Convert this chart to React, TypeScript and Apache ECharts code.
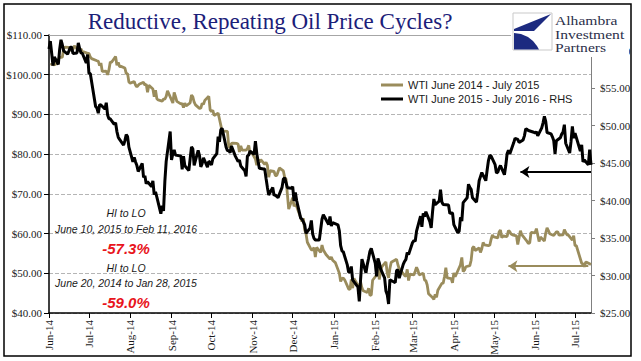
import React, { useEffect, useRef } from "react";
import * as echarts from "echarts";

// ---------- axis ----------
const axisStart = "2014-06-01";
const axisEnd = "2015-07-13";
const monthNames = ["Jan", "Feb", "Mar", "Apr", "May", "Jun", "Jul", "Aug", "Sep", "Oct", "Nov", "Dec"];
const leftMin = 40, leftMax = 110, leftStep = 10;
const rightMin = 25, rightMax = 62.07, rightStep = 5;

// ---------- series: WTI June 2014 - July 2015 (left axis) ----------
const tanPoints: [string, number][] = [
  ["2014-06-02",102.47],["2014-06-03",102.66],["2014-06-04",102.64],["2014-06-05",102.48],["2014-06-06",102.66],["2014-06-09",104.41],["2014-06-10",104.35],["2014-06-11",104.40],["2014-06-12",106.53],["2014-06-13",106.91],["2014-06-16",106.90],["2014-06-17",106.36],["2014-06-18",106.07],["2014-06-19",106.43],["2014-06-20",107.26],["2014-06-23",106.17],["2014-06-24",106.03],["2014-06-25",106.50],["2014-06-26",105.84],["2014-06-27",105.74],["2014-06-30",105.37],
  ["2014-07-01",105.34],["2014-07-02",104.48],["2014-07-03",104.06],["2014-07-07",103.53],["2014-07-08",103.40],["2014-07-09",102.29],["2014-07-10",102.93],["2014-07-11",100.83],["2014-07-14",100.91],["2014-07-15",99.96],["2014-07-16",101.20],["2014-07-17",103.19],["2014-07-18",103.13],["2014-07-21",104.59],["2014-07-22",102.39],["2014-07-23",103.12],["2014-07-24",102.07],["2014-07-25",102.09],["2014-07-28",101.67],["2014-07-29",100.27],["2014-07-30",100.27],["2014-07-31",98.17],
  ["2014-08-01",97.88],["2014-08-04",98.29],["2014-08-05",97.38],["2014-08-06",96.92],["2014-08-07",97.34],["2014-08-08",97.65],["2014-08-11",98.08],["2014-08-12",97.37],["2014-08-13",97.59],["2014-08-14",95.58],["2014-08-15",97.35],["2014-08-18",96.41],["2014-08-19",94.48],["2014-08-20",96.07],["2014-08-21",93.96],["2014-08-22",93.65],["2014-08-25",93.35],["2014-08-26",93.86],["2014-08-27",93.88],["2014-08-28",94.55],["2014-08-29",95.96],
  ["2014-09-02",92.88],["2014-09-03",95.54],["2014-09-04",94.45],["2014-09-05",93.29],["2014-09-08",92.66],["2014-09-09",92.75],["2014-09-10",91.71],["2014-09-11",92.83],["2014-09-12",92.18],["2014-09-15",92.92],["2014-09-16",94.88],["2014-09-17",94.42],["2014-09-18",93.07],["2014-09-19",92.41],["2014-09-22",91.52],["2014-09-23",91.56],["2014-09-24",92.80],["2014-09-25",92.53],["2014-09-26",93.54],["2014-09-29",94.57],["2014-09-30",91.16],
  ["2014-10-01",90.73],["2014-10-02",91.01],["2014-10-03",89.74],["2014-10-06",90.34],["2014-10-07",88.85],["2014-10-08",87.31],["2014-10-09",85.77],["2014-10-10",85.82],["2014-10-13",85.74],["2014-10-14",81.84],["2014-10-15",81.78],["2014-10-16",82.70],["2014-10-17",82.75],["2014-10-20",82.71],["2014-10-21",82.49],["2014-10-22",80.52],["2014-10-23",82.09],["2014-10-24",81.01],["2014-10-27",81.00],["2014-10-28",81.42],["2014-10-29",82.20],["2014-10-30",80.12],["2014-10-31",80.54],
  ["2014-11-03",78.78],["2014-11-04",77.19],["2014-11-05",78.68],["2014-11-06",77.91],["2014-11-07",78.65],["2014-11-10",77.40],["2014-11-11",77.94],["2014-11-12",77.18],["2014-11-13",74.21],["2014-11-14",75.82],["2014-11-17",75.64],["2014-11-18",74.61],["2014-11-19",74.58],["2014-11-20",75.58],["2014-11-21",76.51],["2014-11-24",75.78],["2014-11-25",74.09],["2014-11-26",73.69],["2014-11-28",66.15],
  ["2014-12-01",69.00],["2014-12-02",66.88],["2014-12-03",67.38],["2014-12-04",66.81],["2014-12-05",65.84],["2014-12-08",63.05],["2014-12-09",63.82],["2014-12-10",60.94],["2014-12-11",59.95],["2014-12-12",57.81],["2014-12-15",55.91],["2014-12-16",55.93],["2014-12-17",56.47],["2014-12-18",54.11],["2014-12-19",56.52],["2014-12-22",55.26],["2014-12-23",57.12],["2014-12-24",55.84],["2014-12-26",54.73],["2014-12-29",53.61],["2014-12-30",54.12],["2014-12-31",53.27],
  ["2015-01-02",52.69],["2015-01-05",50.04],["2015-01-06",47.93],["2015-01-07",48.65],["2015-01-08",48.79],["2015-01-09",48.36],["2015-01-12",46.07],["2015-01-13",45.89],["2015-01-14",48.48],["2015-01-15",46.25],["2015-01-16",48.69],["2015-01-20",46.39],["2015-01-21",47.78],["2015-01-22",46.31],["2015-01-23",45.59],["2015-01-26",45.15],["2015-01-27",46.23],["2015-01-28",44.45],["2015-01-29",44.53],["2015-01-30",48.24],
  ["2015-02-02",49.57],["2015-02-03",53.05],["2015-02-04",48.45],["2015-02-05",50.48],["2015-02-06",51.69],["2015-02-09",52.86],["2015-02-10",50.02],["2015-02-11",48.84],["2015-02-12",51.21],["2015-02-13",52.78],["2015-02-17",53.53],["2015-02-18",52.14],["2015-02-19",51.16],["2015-02-20",50.81],["2015-02-23",49.45],["2015-02-24",49.25],["2015-02-25",50.99],["2015-02-26",48.17],["2015-02-27",49.76],
  ["2015-03-02",49.59],["2015-03-03",50.52],["2015-03-04",51.53],["2015-03-05",50.76],["2015-03-06",49.61],["2015-03-09",50.00],["2015-03-10",48.29],["2015-03-11",48.17],["2015-03-12",47.05],["2015-03-13",44.84],["2015-03-16",43.88],["2015-03-17",43.46],["2015-03-18",44.66],["2015-03-19",43.96],["2015-03-20",45.72],["2015-03-23",47.45],["2015-03-24",47.51],["2015-03-25",49.21],["2015-03-26",51.43],["2015-03-27",48.87],["2015-03-30",48.68],["2015-03-31",47.60],
  ["2015-04-01",50.09],["2015-04-02",49.14],["2015-04-06",52.14],["2015-04-07",53.98],["2015-04-08",50.42],["2015-04-09",50.79],["2015-04-10",51.64],["2015-04-13",51.91],["2015-04-14",53.29],["2015-04-15",56.39],["2015-04-16",56.71],["2015-04-17",55.74],["2015-04-20",56.38],["2015-04-21",55.26],["2015-04-22",56.16],["2015-04-23",57.74],["2015-04-24",57.15],["2015-04-27",56.99],["2015-04-28",57.06],["2015-04-29",58.58],["2015-04-30",59.63],
  ["2015-05-01",59.15],["2015-05-04",58.93],["2015-05-05",60.40],["2015-05-06",60.93],["2015-05-07",58.94],["2015-05-08",59.39],["2015-05-11",59.25],["2015-05-12",60.75],["2015-05-13",60.50],["2015-05-14",59.88],["2015-05-15",59.69],["2015-05-18",59.43],["2015-05-19",57.26],["2015-05-20",58.98],["2015-05-21",60.72],["2015-05-22",59.72],["2015-05-26",58.03],["2015-05-27",57.51],["2015-05-28",57.68],["2015-05-29",60.30],
  ["2015-06-01",60.20],["2015-06-02",61.26],["2015-06-03",59.64],["2015-06-04",58.00],["2015-06-05",59.13],["2015-06-08",58.14],["2015-06-09",60.14],["2015-06-10",61.43],["2015-06-11",60.77],["2015-06-12",59.96],["2015-06-15",59.52],["2015-06-16",59.97],["2015-06-17",60.45],["2015-06-18",60.45],["2015-06-19",59.61],["2015-06-22",59.68],["2015-06-23",61.01],["2015-06-24",60.27],["2015-06-25",59.70],["2015-06-26",59.63],["2015-06-29",58.33],["2015-06-30",59.47],
  ["2015-07-01",56.96],["2015-07-02",56.93],["2015-07-06",52.53],["2015-07-07",52.33],["2015-07-08",51.65],["2015-07-09",52.78],["2015-07-10",52.74],["2015-07-13",52.20],
];

// ---------- series: WTI June 2015 - July 2016 (right axis), real dates ----------
const blackPoints: [string, number][] = [
  ["2015-06-01",60.20],["2015-06-02",61.26],["2015-06-03",59.64],["2015-06-04",58.00],["2015-06-05",59.13],["2015-06-08",58.14],["2015-06-09",60.14],["2015-06-10",61.43],["2015-06-11",60.77],["2015-06-12",59.96],["2015-06-15",59.52],["2015-06-16",59.97],["2015-06-17",60.45],["2015-06-18",60.45],["2015-06-19",59.61],["2015-06-22",59.68],["2015-06-23",61.01],["2015-06-24",60.27],["2015-06-25",59.70],["2015-06-26",59.63],["2015-06-29",58.33],["2015-06-30",59.47],
  ["2015-07-01",56.96],["2015-07-02",56.93],["2015-07-06",52.53],["2015-07-07",52.33],["2015-07-08",51.65],["2015-07-09",52.78],["2015-07-10",52.74],["2015-07-13",52.20],["2015-07-14",53.04],["2015-07-15",51.41],["2015-07-16",50.91],["2015-07-17",50.89],["2015-07-20",50.15],["2015-07-21",50.36],["2015-07-22",49.19],["2015-07-23",48.45],["2015-07-24",48.14],["2015-07-27",47.39],["2015-07-28",47.98],["2015-07-29",48.79],["2015-07-30",48.52],["2015-07-31",47.12],
  ["2015-08-03",45.17],["2015-08-04",45.74],["2015-08-05",45.15],["2015-08-06",44.66],["2015-08-07",43.87],["2015-08-10",44.96],["2015-08-11",43.08],["2015-08-12",43.30],["2015-08-13",42.23],["2015-08-14",42.50],["2015-08-17",41.87],["2015-08-18",42.62],["2015-08-19",40.80],["2015-08-20",41.14],["2015-08-21",40.45],["2015-08-24",38.24],["2015-08-25",39.31],["2015-08-26",38.60],["2015-08-27",42.56],["2015-08-28",45.22],["2015-08-31",49.20],
  ["2015-09-01",45.41],["2015-09-02",46.25],["2015-09-03",46.75],["2015-09-04",46.05],["2015-09-08",45.94],["2015-09-09",44.15],["2015-09-10",45.92],["2015-09-11",44.63],["2015-09-14",44.00],["2015-09-15",45.59],["2015-09-16",47.15],["2015-09-17",46.90],["2015-09-18",44.68],["2015-09-21",46.68],["2015-09-22",46.00],["2015-09-23",44.48],["2015-09-24",44.91],["2015-09-25",45.70],["2015-09-28",44.43],["2015-09-29",45.23],["2015-09-30",45.09],
  ["2015-10-01",44.74],["2015-10-02",45.54],["2015-10-05",46.26],["2015-10-06",48.53],["2015-10-07",47.81],["2015-10-08",49.43],["2015-10-09",49.63],["2015-10-12",47.10],["2015-10-13",46.66],["2015-10-14",46.64],["2015-10-15",46.38],["2015-10-16",47.26],["2015-10-19",45.89],["2015-10-20",45.55],["2015-10-21",45.20],["2015-10-22",45.38],["2015-10-23",44.60],["2015-10-26",43.98],["2015-10-27",43.20],["2015-10-28",45.94],["2015-10-29",46.06],["2015-10-30",46.59],
  ["2015-11-02",46.14],["2015-11-03",47.90],["2015-11-04",46.32],["2015-11-05",45.20],["2015-11-06",44.29],["2015-11-09",44.21],["2015-11-10",44.21],["2015-11-11",42.93],["2015-11-12",41.75],["2015-11-13",40.74],["2015-11-16",41.74],["2015-11-17",40.67],["2015-11-18",40.75],["2015-11-19",40.54],["2015-11-20",40.39],["2015-11-23",41.75],["2015-11-24",42.87],["2015-11-25",43.04],["2015-11-27",41.71],["2015-11-30",41.65],
  ["2015-12-01",41.85],["2015-12-02",39.94],["2015-12-03",41.08],["2015-12-04",39.97],["2015-12-07",37.65],["2015-12-08",37.51],["2015-12-09",37.16],["2015-12-10",36.76],["2015-12-11",35.62],["2015-12-14",36.31],["2015-12-15",37.35],["2015-12-16",35.52],["2015-12-17",34.95],["2015-12-18",34.73],["2015-12-21",34.74],["2015-12-22",36.14],["2015-12-23",37.50],["2015-12-24",38.10],["2015-12-28",36.81],["2015-12-29",37.87],["2015-12-30",36.60],["2015-12-31",37.04],
  ["2016-01-04",36.76],["2016-01-05",35.97],["2016-01-06",33.97],["2016-01-07",33.27],["2016-01-08",33.16],["2016-01-11",31.41],["2016-01-12",30.44],["2016-01-13",30.48],["2016-01-14",31.20],["2016-01-15",29.42],["2016-01-19",28.46],["2016-01-20",26.55],["2016-01-21",29.53],["2016-01-22",32.19],["2016-01-25",30.34],["2016-01-26",31.45],["2016-01-27",32.30],["2016-01-28",33.22],["2016-01-29",33.62],
  ["2016-02-01",31.62],["2016-02-02",29.88],["2016-02-03",32.28],["2016-02-04",31.72],["2016-02-05",30.89],["2016-02-08",29.69],["2016-02-09",27.94],["2016-02-10",27.45],["2016-02-11",26.21],["2016-02-12",29.44],["2016-02-16",29.04],["2016-02-17",30.66],["2016-02-18",30.77],["2016-02-19",29.64],["2016-02-22",31.48],["2016-02-23",31.87],["2016-02-24",32.15],["2016-02-25",33.07],["2016-02-26",32.78],
  ["2016-03-01",34.40],["2016-03-02",34.66],["2016-03-03",34.57],["2016-03-04",35.92],["2016-03-07",37.90],["2016-03-08",36.50],["2016-03-09",38.29],["2016-03-10",37.84],["2016-03-11",38.50],["2016-03-14",37.18],["2016-03-15",36.34],["2016-03-16",38.46],["2016-03-17",40.20],["2016-03-18",39.44],["2016-03-21",39.91],["2016-03-22",41.45],["2016-03-23",39.79],["2016-03-24",39.46],["2016-03-28",39.39],["2016-03-29",38.28],["2016-03-30",38.32],["2016-03-31",38.34],
  ["2016-04-01",36.79],["2016-04-04",35.70],["2016-04-05",35.89],["2016-04-06",37.75],["2016-04-07",37.26],["2016-04-08",39.72],["2016-04-11",40.36],["2016-04-12",42.17],["2016-04-13",41.76],["2016-04-14",41.50],["2016-04-15",40.36],["2016-04-18",39.78],["2016-04-19",41.08],["2016-04-20",42.63],["2016-04-21",43.18],["2016-04-22",43.73],["2016-04-25",42.64],["2016-04-26",44.04],["2016-04-27",45.33],["2016-04-28",46.03],["2016-04-29",45.92],
  ["2016-05-02",44.78],["2016-05-03",43.65],["2016-05-04",43.78],["2016-05-05",44.32],["2016-05-06",44.66],["2016-05-09",43.44],["2016-05-10",44.66],["2016-05-11",46.23],["2016-05-12",46.70],["2016-05-13",46.21],["2016-05-16",47.72],["2016-05-17",48.31],["2016-05-18",48.19],["2016-05-19",48.16],["2016-05-20",47.75],["2016-05-23",48.08],["2016-05-24",48.62],["2016-05-25",49.56],["2016-05-26",49.48],["2016-05-27",49.33],["2016-05-31",49.10],
  ["2016-06-01",49.01],["2016-06-02",49.17],["2016-06-03",48.62],["2016-06-06",49.69],["2016-06-07",50.36],["2016-06-08",51.23],["2016-06-09",50.56],["2016-06-10",49.07],["2016-06-13",48.88],["2016-06-14",48.49],["2016-06-15",48.01],["2016-06-16",46.21],["2016-06-17",47.98],["2016-06-20",48.37],["2016-06-21",48.85],["2016-06-22",49.13],["2016-06-23",50.11],["2016-06-24",47.64],["2016-06-27",46.33],["2016-06-28",47.85],["2016-06-29",49.88],["2016-06-30",48.33],
  ["2016-07-01",48.99],["2016-07-05",46.60],["2016-07-06",47.43],["2016-07-07",45.14],["2016-07-08",45.41],["2016-07-11",44.76],["2016-07-12",46.80],["2016-07-13",44.75],
];

// arrows (axis date of tip, axis date of tail, level)
const blackArrow = { from: "2015-05-21", to: "2015-07-13", level: 43.8 };
const tanArrow = { from: "2015-05-12", to: "2015-07-11", level: 51.8 };

const titleText = "Reductive, Repeating Oil Price Cycles?";
const tanName = "WTI June 2014 - July 2015";
const blackName = "WTI June 2015 - July 2016 - RHS";
const notes = [
  { t: "HI to LO", kind: "n" },
  { t: "June 10, 2015 to Feb 11, 2016", kind: "n" },
  { t: "-57.3%", kind: "p" },
  { t: "HI to LO", kind: "n" },
  { t: "June 20, 2014 to Jan 28, 2015", kind: "n" },
  { t: "-59.0%", kind: "p" },
];
const noteY = [213, 229, 248, 268, 283, 302];
const logoText = "Alhambra\nInvestment\nPartners";

const SERIF = "'Liberation Serif', 'Times New Roman', serif";
const SANS = "'Liberation Sans', Arial, sans-serif";

function buildDays(start: string, end: string): string[] {
  const out: string[] = [];
  const d = new Date(start + "T00:00:00Z");
  const e = new Date(end + "T00:00:00Z");
  while (d.getTime() <= e.getTime()) {
    out.push(d.toISOString().slice(0, 10));
    d.setUTCDate(d.getUTCDate() + 1);
  }
  return out;
}
const shiftBackYear = (s: string) => String(parseInt(s.slice(0, 4), 10) - 1) + s.slice(4);
const money = (v: number) => "$" + v.toFixed(2);

export default function App() {
  const ref = useRef<HTMLDivElement>(null);
  useEffect(() => {
    if (!ref.current) return;
    const chart = echarts.init(ref.current, undefined, { renderer: "svg" });
    const days = buildDays(axisStart, axisEnd);
    const idx = (s: string) => days.indexOf(s);
    const isMonthStart = (_i: number, v: string) => v.slice(8, 10) === "01";
    const tanData = tanPoints.map(([d, v]) => [idx(d), v]);
    const blackData = blackPoints.map(([d, v]) => [idx(shiftBackYear(d)), v]).filter((p) => p[0] >= 0);

    const graphic: any[] = [
      { type: "rect", z: 100, shape: { x: 4, y: 4, width: 627, height: 352 }, style: { fill: "none", stroke: "#000", lineWidth: 1.5 } },
      { type: "text", z: 100, x: 270, y: 21, style: { text: titleText, fontFamily: SERIF, fontSize: 23, fill: "#1b2079", align: "center", verticalAlign: "middle" } },
      { type: "rect", z: 100, shape: { x: 511, y: 7, width: 118, height: 50 }, style: { fill: "#fff" } },
      { type: "rect", z: 101, shape: { x: 513, y: 13, width: 39, height: 37 }, style: { fill: "#fff", stroke: "#c9c9c9", lineWidth: 1 } },
      { type: "polygon", z: 102, shape: { points: [[551, 14], [514, 29], [514, 31], [534, 31]] }, style: { fill: "#1c2a80" } },
      { type: "polygon", z: 102, shape: { points: [[514, 33], [521, 34], [528, 37], [533, 41], [537, 46], [539, 49.5], [514, 49.5]] }, style: { fill: "#1c2a80" } },
      { type: "text", z: 102, x: 555, y: 34, scaleX: 1.2, style: { text: logoText, fontFamily: SERIF, fontSize: 13, lineHeight: 13.5, fill: "#2b2f4a", align: "left", verticalAlign: "middle" } },
      ...notes.map((n, i) => ({
        type: "text", z: 100, x: 126, y: noteY[i],
        style: n.kind === "p"
          ? { text: n.t, fontFamily: SANS, fontSize: 15, fontWeight: "bold", fontStyle: "italic", fill: "#e8141c", align: "center", verticalAlign: "middle" }
          : { text: n.t, fontFamily: SANS, fontSize: 10.5, fontStyle: "italic", fill: "#1a1a1a", align: "center", verticalAlign: "middle" },
      })),
    ];

    const option: any = {
      animation: false,
      backgroundColor: "#ffffff",
      grid: { left: 49, right: 50, top: 35, bottom: 48, containLabel: false },
      legend: {
        data: [tanName, blackName], orient: "vertical", left: 381, top: 78, padding: 0, itemGap: 0,
        itemWidth: 22, itemHeight: 3, icon: "rect", selectedMode: false,
        textStyle: { fontFamily: SANS, fontSize: 11, color: "#1a1a1a", lineHeight: 14 },
      },
      xAxis: [
        {
          type: "category", data: days, boundaryGap: false,
          axisLine: { onZero: false, lineStyle: { color: "#000", width: 1.5 } },
          axisTick: { show: true, interval: isMonthStart, length: 5, lineStyle: { color: "#000", width: 1 } },
          axisLabel: {
            interval: isMonthStart, rotate: 90, margin: 7, fontFamily: SERIF, fontSize: 11, color: "#1a1a1a",
            formatter: (v: string) => monthNames[parseInt(v.slice(5, 7), 10) - 1] + "-" + v.slice(2, 4),
          },
          splitLine: { show: false },
        },
        {
          type: "category", data: days, boundaryGap: false, position: "top",
          axisLine: { onZero: false, lineStyle: { color: "#a6a6a6", width: 1 } },
          axisTick: { show: false }, axisLabel: { show: false }, splitLine: { show: false },
        },
      ],
      yAxis: [
        {
          type: "value", position: "left", min: leftMin, max: leftMax, interval: leftStep,
          axisLine: { show: true, lineStyle: { color: "#000", width: 1.5 } },
          axisTick: { show: true, length: 5, lineStyle: { color: "#000" } },
          axisLabel: { formatter: money, margin: 7, fontFamily: SERIF, fontSize: 11, color: "#1a1a1a" },
          splitLine: { show: true, lineStyle: { color: "#b5b5b5", type: "dashed", width: 1 } },
        },
        {
          type: "value", position: "right", min: rightMin, max: rightMax, interval: rightStep,
          axisLine: { show: true, lineStyle: { color: "#808080", width: 1 } },
          axisTick: { show: true, length: 4, lineStyle: { color: "#808080" } },
          axisLabel: { formatter: money, margin: 9, fontFamily: SERIF, fontSize: 11, color: "#1a1a1a", showMaxLabel: false },
          splitLine: { show: false },
        },
      ],
      series: [
        {
          name: tanName, type: "line", xAxisIndex: 0, yAxisIndex: 0, data: tanData, showSymbol: false, silent: true,
          lineStyle: { color: "#9a8c5c", width: 2.8 }, itemStyle: { color: "#9a8c5c" }, z: 3,
          markLine: {
            silent: true, symbol: ["arrow", "none"], symbolSize: 9, label: { show: false },
            lineStyle: { color: "#9a8c5c", width: 2, type: "solid" },
            data: [[{ coord: [idx(tanArrow.from), tanArrow.level] }, { coord: [idx(tanArrow.to), tanArrow.level] }]],
          },
        },
        {
          name: blackName, type: "line", xAxisIndex: 0, yAxisIndex: 1, data: blackData, showSymbol: false, silent: true,
          lineStyle: { color: "#000000", width: 3 }, itemStyle: { color: "#000000" }, z: 4,
          markLine: {
            silent: true, symbol: ["arrow", "none"], symbolSize: 9, label: { show: false },
            lineStyle: { color: "#000", width: 2, type: "solid" },
            data: [[{ coord: [idx(blackArrow.from), blackArrow.level] }, { coord: [idx(blackArrow.to), blackArrow.level] }]],
          },
        },
      ],
      graphic,
    };
    chart.setOption(option);
    return () => chart.dispose();
  }, []);
  return <div ref={ref} style={{ position: "fixed", left: 0, top: 0, width: 641, height: 361, background: "#fff" }} />;
}
